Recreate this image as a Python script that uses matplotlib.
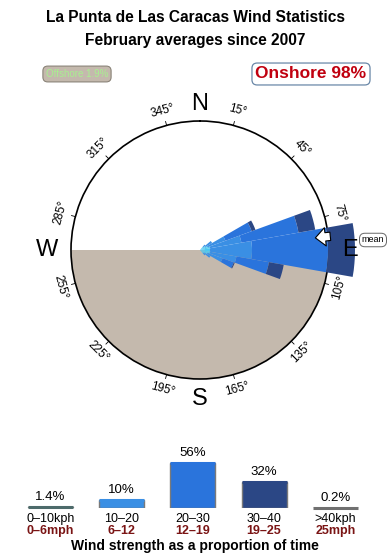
import numpy as np
import matplotlib
matplotlib.use("Agg")
import matplotlib.pyplot as plt

plt.rcParams['font.family'] = ['Liberation Sans', 'DejaVu Sans']

# wind rose: sector centres (deg) and radial length of each speed band
sector_dirs = [45, 55, 65, 75, 85, 95, 105, 115, 125, 135]
band_0_10 = [4, 6, 8, 10, 10, 10, 10, 8, 5, 4]
band_10_20 = [3, 8, 19, 32, 42, 42, 27, 16, 7, 3]
band_20_30 = [0, 0, 28, 58, 76, 76, 33, 12, 0, 0]
band_30_40 = [0, 0, 4, 17, 27, 27, 15, 1, 0, 0]
band_colors = ['#4cc8f0', '#3a8fe4', '#2a74dc', '#2b4785']

# strength histogram
speed_kph = ['0\u201310kph', '10\u201320', '20\u201330', '30\u201340', '>40kph']
speed_mph = ['0\u20136mph', '6\u201312', '12\u201319', '19\u201325', '25mph']
speed_pct = [1.4, 10, 56, 32, 0.2]
pct_labels = ['1.4%', '10%', '56%', '32%', '0.2%']
hist_colors = ['#4d6b6b', '#3a8fe4', '#2a74dc', '#2b4785', '#707070']

deg_ticks = [15, 45, 75, 105, 135, 165, 195, 225, 255, 285, 315, 345]
mean_dir = 84
offshore_pct = 1.9
onshore_pct = 98

W, H = 390, 560
fig = plt.figure(figsize=(W / 100, H / 100), dpi=100)

fig.text(0.5, 1 - 18 / H, 'La Punta de Las Caracas Wind Statistics',
         ha='center', va='center', fontsize=11.2, fontweight='bold')
fig.text(0.5, 1 - 41 / H, 'February averages since 2007',
         ha='center', va='center', fontsize=11.2, fontweight='bold')

fig.text(77 / W, 1 - 74 / H, 'Offshore %.1f%%' % offshore_pct, ha='center', va='center',
         fontsize=7, color='#a8f090',
         bbox=dict(boxstyle='round,pad=0.3,rounding_size=0.5', fc='#c4b9ad', ec='#8a8378', lw=0.8))
fig.text(311 / W, 1 - 74 / H, 'Onshore %d%%' % onshore_pct, ha='center', va='center',
         fontsize=12.5, color='#c0000f', fontweight='bold',
         bbox=dict(boxstyle='round,pad=0.2,rounding_size=0.3', fc='white', ec='#6a88a8', lw=0.9))

# rose
cx, cy, R = 200, 250, 129
ax = fig.add_axes([(cx - R) / W, (H - cy - R) / H, 2 * R / W, 2 * R / H], projection='polar')
ax.set_theta_zero_location('N')
ax.set_theta_direction(-1)
ax.set_ylim(0, R)
ax.grid(False)
ax.set_xticks([])
ax.set_yticks([])
ax.spines['polar'].set_linewidth(1.2)

# land (offshore side)
land = np.linspace(np.radians(90), np.radians(270), 100)
ax.fill_between(land, 0, R, color='#c4b9ad', lw=0, zorder=1)

theta = np.radians(sector_dirs)
bottom = np.zeros(len(sector_dirs))
for band, col in zip([band_0_10, band_10_20, band_20_30, band_30_40], band_colors):
    band = np.array(band, dtype=float)
    bars = ax.bar(theta, band, width=np.radians(10), bottom=bottom, color=col,
                  lw=0, zorder=3)
    for b in bars:
        b.set_clip_on(False)
    bottom += band

for d in deg_ticks:
    t = np.radians(d)
    ax.plot([t, t], [R, R + 4], color='black', lw=0.6, clip_on=False, zorder=4)
    rot = -d if (d < 90 or d > 270) else 180 - d
    ax.text(t, R + 15, '%d\u00b0' % d, rotation=rot, ha='center', va='center',
            fontsize=8.5, rotation_mode='anchor')

for lab, d, r in [('N', 0, 146), ('E', 90, 150), ('S', 180, 149), ('W', 270, 153)]:
    ax.text(np.radians(d), r, lab, ha='center', va='center', fontsize=17)

ax.annotate('', xy=(np.radians(mean_dir), 116), xytext=(np.radians(mean_dir), 131),
            arrowprops=dict(arrowstyle='simple,head_length=0.6,head_width=1.1,tail_width=0.5',
                            mutation_scale=12, fc='white', ec='black', lw=0.8,
                            shrinkA=0, shrinkB=0), zorder=5)
fig.text(373 / W, 1 - 240 / H, 'mean', ha='center', va='center', fontsize=6.5,
         bbox=dict(boxstyle='round,pad=0.25,rounding_size=0.6', fc='white', ec='#666666', lw=0.7))

# strength bars
x0, dx, base = 50.5, 71.2, 508
bw = 45 / dx
ax2 = fig.add_axes([0, (H - base) / H, 1, 48 / H])
ax2.set_xlim(-x0 / dx, (W - x0) / dx)
ax2.set_ylim(0, 60)
ax2.axis('off')
xs = np.arange(len(speed_pct))
ax2.bar(xs, speed_pct, width=bw, color=hist_colors, edgecolor='#7a7a7a', lw=1.0)
# top edge of each bar so the tiny ones still show as a line
ax2.hlines(speed_pct, xs - bw / 2, xs + bw / 2, colors=hist_colors, lw=2.2, clip_on=False)
for x, v, lab in zip(xs, speed_pct, pct_labels):
    ax2.annotate(lab, (x, v), xytext=(0, 3), textcoords='offset points',
                 ha='center', va='bottom', fontsize=9.5, annotation_clip=False)
for x, k, m in zip(xs, speed_kph, speed_mph):
    fig.text((x0 + dx * x) / W, 1 - 519 / H, k, ha='center', va='center', fontsize=9)
    fig.text((x0 + dx * x) / W, 1 - 531 / H, m, ha='center', va='center', fontsize=9,
             color='#7a1414', fontweight='bold')
fig.text(0.5, 1 - 546 / H, 'Wind strength as a proportion of time', ha='center', va='center',
         fontsize=10, fontweight='bold')

fig.savefig('out.png', dpi=100)
